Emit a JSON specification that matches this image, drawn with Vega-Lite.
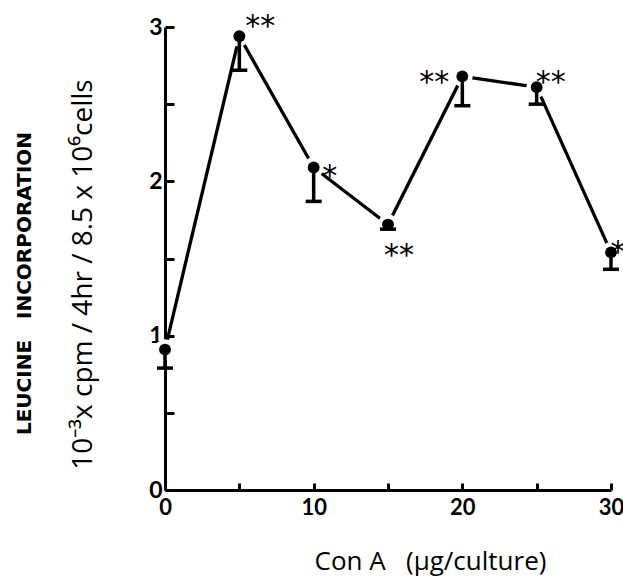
{
  "$schema": "https://vega.github.io/schema/vega-lite/v6.json",
  "width": 446,
  "height": 463,
  "autosize": "none",
  "padding": {"left": 165, "top": 27, "right": 12, "bottom": 92},
  "background": "white",
  "title": {
    "text": "LEUCINE\u00a0\u00a0\u00a0INCORPORATION",
    "orient": "left",
    "anchor": "middle",
    "frame": "group",
    "font": "DejaVu Sans",
    "fontSize": 20,
    "fontWeight": "bold",
    "color": "black",
    "offset": 34,
    "dx": -25
  },
  "config": {
    "view": {"stroke": null},
    "axis": {
      "domainColor": "black",
      "domainWidth": 3,
      "tickColor": "black",
      "tickWidth": 3,
      "grid": false,
      "labelColor": "black",
      "titleColor": "black",
      "zindex": 1
    }
  },
  "data": {
    "values": [
      {"dose": 0, "leucine": 0.91, "lower": 0.79, "sig": ""},
      {"dose": 5, "leucine": 2.94, "lower": 2.72, "sig": "**"},
      {"dose": 10, "leucine": 2.09, "lower": 1.87, "sig": "*"},
      {"dose": 15, "leucine": 1.72, "lower": 1.69, "sig": "**"},
      {"dose": 20, "leucine": 2.68, "lower": 2.49, "sig": "**"},
      {"dose": 25, "leucine": 2.61, "lower": 2.50, "sig": "**"},
      {"dose": 30, "leucine": 1.54, "lower": 1.43, "sig": "*"}
    ]
  },
  "encoding": {
    "x": {
      "field": "dose",
      "type": "quantitative",
      "scale": {"domain": [0, 30], "nice": false, "zero": false},
      "axis": {
        "title": "Con A\u00a0\u00a0 (\u03bcg/culture)",
        "titleFont": "Open Sans",
        "titleFontSize": 26,
        "titleFontWeight": "normal",
        "titleX": 265,
        "titleY": 79,
        "titleAlign": "center",
        "titleBaseline": "alphabetic",
        "values": [0, 5, 10, 15, 20, 25, 30],
        "labelExpr": "datum.value % 10 === 0 ? format(datum.value, 'd') : ''",
        "labelFont": "Lato",
        "labelFontSize": 22,
        "labelFontWeight": "bold",
        "labelPadding": 14,
        "tickSize": -7,
        "labelFlush": false,
        "labelOverlap": false
      }
    },
    "y": {
      "field": "leucine",
      "type": "quantitative",
      "scale": {"domain": [0, 3], "nice": false, "zero": false},
      "axis": {
        "title": "10\u207b\u00b3x cpm / 4hr / 8.5 x 10\u2076cells",
        "titleFont": "Open Sans",
        "titleFontSize": 28,
        "titleFontWeight": "normal",
        "titleAngle": 270,
        "titleX": -74,
        "titleY": 247,
        "titleAlign": "center",
        "titleBaseline": "alphabetic",
        "values": [0, 0.5, 1, 1.5, 2, 2.5, 3],
        "labelExpr": "datum.value % 1 === 0 ? format(datum.value, 'd') : ''",
        "labelFont": "Lato",
        "labelFontSize": 23,
        "labelFontWeight": "bold",
        "labelPadding": 12,
        "tickSize": -9,
        "labelFlush": false,
        "labelOverlap": false
      }
    }
  },
  "layer": [
    {"mark": {"type": "line", "color": "black", "strokeWidth": 3.3}},
    {"mark": {"type": "point", "filled": true, "color": "white", "opacity": 1, "size": 430}},
    {
      "mark": {"type": "rule", "color": "black", "strokeWidth": 3.5},
      "encoding": {"y2": {"field": "lower"}}
    },
    {
      "mark": {"type": "tick", "orient": "horizontal", "color": "black", "opacity": 1, "size": 16, "thickness": 3.5},
      "encoding": {"y": {"field": "lower", "type": "quantitative"}}
    },
    {"mark": {"type": "point", "filled": true, "color": "black", "opacity": 1, "size": 140}},
    {
      "transform": [{"filter": "datum.dose === 5"}],
      "mark": {"type": "text", "font": "DejaVu Sans", "fontSize": 30, "align": "center", "baseline": "middle", "dx": 21, "dy": -9, "color": "black"},
      "encoding": {"text": {"field": "sig"}}
    },
    {
      "transform": [{"filter": "datum.dose === 10"}],
      "mark": {"type": "text", "font": "DejaVu Sans", "fontSize": 30, "align": "center", "baseline": "middle", "dx": 16, "dy": 10, "color": "black"},
      "encoding": {"text": {"field": "sig"}}
    },
    {
      "transform": [{"filter": "datum.dose === 15"}],
      "mark": {"type": "text", "font": "DejaVu Sans", "fontSize": 30, "align": "center", "baseline": "middle", "dx": 11, "dy": 31, "color": "black"},
      "encoding": {"text": {"field": "sig"}}
    },
    {
      "transform": [{"filter": "datum.dose === 20"}],
      "mark": {"type": "text", "font": "DejaVu Sans", "fontSize": 30, "align": "center", "baseline": "middle", "dx": -28, "dy": 7, "color": "black"},
      "encoding": {"text": {"field": "sig"}}
    },
    {
      "transform": [{"filter": "datum.dose === 25"}],
      "mark": {"type": "text", "font": "DejaVu Sans", "fontSize": 30, "align": "center", "baseline": "middle", "dx": 14, "dy": -4, "color": "black"},
      "encoding": {"text": {"field": "sig"}}
    },
    {
      "transform": [{"filter": "datum.dose === 30"}],
      "mark": {"type": "text", "font": "DejaVu Sans", "fontSize": 30, "align": "center", "baseline": "middle", "dx": 7, "dy": 1, "color": "black"},
      "encoding": {"text": {"field": "sig"}}
    }
  ]
}
